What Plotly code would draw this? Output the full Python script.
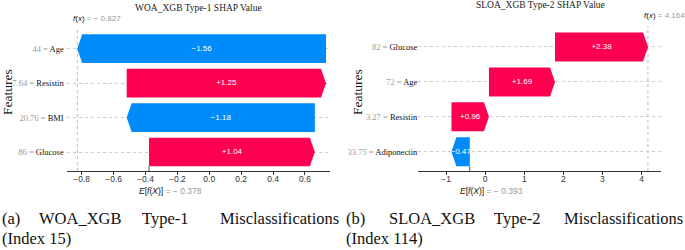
import plotly.graph_objects as go

# ---------------- data ----------------
# panel (a): rows listed bottom -> top
a_features = ["Glucose", "BMI", "Resistin", "Age"]
a_values = ["86", "20.76", "7.64", "44"]
a_shap = [1.04, -1.18, 1.25, -1.56]
a_base = -0.378
a_fx = -0.827
a_ticks = [-0.8, -0.6, -0.4, -0.2, 0.0, 0.2, 0.4, 0.6]
a_title = "WOA_XGB Type-1 SHAP Value"

# panel (b): rows listed bottom -> top
b_features = ["Adiponectin", "Resistin", "Age", "Glucose"]
b_values = ["33.75", "3.27", "72", "82"]
b_shap = [-0.47, 0.96, 1.69, 2.38]
b_base = -0.393
b_fx = 4.164
b_ticks = [-1, 0, 1, 2, 3, 4]
b_title = "SLOA_XGB Type-2 SHAP Value"

cap_line1 = ["(a)", "WOA_XGB", "Type-1", "Misclassifications",
             "(b)", "SLOA_XGB", "Type-2", "Misclassifications"]
cap_line2 = ["(Index 15)", "(Index 114)"]

# ---------------- styling ----------------
W, H = 685, 250
RED = "#FF0051"
BLUE = "#008BFB"
SERIF = "Liberation Serif, serif"
SANS = "Liberation Sans, Arial, sans-serif"
CAPFONT = "Liberation Serif, serif"


def px(x):
    return x / W


def py(y):
    return 1 - y / H


a_dom = [66.7, 330.0]
a_rng = [-0.894, 0.757]
b_dom = [418.3, 660.7]
b_rng = [-1.71, 4.49]
yr = [-0.55, 3.6]
a_ydom = [py(171), py(28)]
b_ydom = [py(171), py(26)]
BAR_H = 0.83
HEAD_PX = 5.0

fig = go.Figure()


def add_panel(features, values, shap, base, fx, xa, ya, dom, rng):
    ppu = (dom[1] - dom[0]) / (rng[1] - rng[0])
    head = HEAD_PX / ppu
    start = base
    tx, ty, tt = [], [], []
    for i, v in enumerate(shap):
        end = start + v
        d = 1 if v > 0 else -1
        hl = min(head, abs(v))
        be = end - d * hl
        y = i
        h = BAR_H / 2
        xs = [start, be, end, be, start, start]
        ys = [y - h, y - h, y, y + h, y + h, y - h]
        fig.add_trace(go.Scatter(
            x=xs, y=ys, mode="lines", fill="toself",
            fillcolor=RED if v > 0 else BLUE,
            line=dict(width=0, color=RED if v > 0 else BLUE),
            hoverinfo="skip", showlegend=False, xaxis=xa, yaxis=ya))
        tx.append(start + v / 2)
        ty.append(y)
        tt.append(("+" if v > 0 else "\u2212") + f"{abs(v):.2f}")
        start = end
    fig.add_trace(go.Scatter(
        x=tx, y=ty, mode="text", text=tt,
        textfont=dict(family=SANS, size=8, color="white"),
        hoverinfo="skip", showlegend=False, xaxis=xa, yaxis=ya))


add_panel(a_features, a_values, a_shap, a_base, a_fx, "x", "y", a_dom, a_rng)
add_panel(b_features, b_values, b_shap, b_base, b_fx, "x2", "y2", b_dom, b_rng)


def ticktext(features, values):
    return [f"<span style='color:#9a9a9a'>{v} = </span>{f}" for f, v in zip(features, values)]


xcommon = dict(showline=True, linecolor="#333333", linewidth=1.3, ticks="outside",
               ticklen=3, tickwidth=1, tickcolor="#333333", showgrid=False, zeroline=False,
               ticklabelstandoff=-3,
               tickfont=dict(family=SANS, size=8.5, color="#333333"), fixedrange=True)
ycommon = dict(range=yr, tickvals=[0, 1, 2, 3], showgrid=True, griddash="dot",
               gridcolor="#cccccc", gridwidth=1, showline=False, zeroline=False,
               ticks="", tickfont=dict(family=SERIF, size=8.5, color="#111111"),
               fixedrange=True)

fig.update_layout(
    width=W, height=H, margin=dict(l=0, r=0, t=0, b=0),
    paper_bgcolor="white", plot_bgcolor="white",
    xaxis=dict(domain=[px(a_dom[0]), px(a_dom[1])], range=a_rng, tickvals=a_ticks,
               tickformat=".1f", anchor="y", **xcommon),
    yaxis=dict(domain=a_ydom, ticktext=ticktext(a_features, a_values), anchor="x",
               ticklabelstandoff=2, **ycommon),
    xaxis2=dict(domain=[px(b_dom[0]), px(b_dom[1])], range=b_rng, tickvals=b_ticks,
                tickformat="d", anchor="y2", **xcommon),
    yaxis2=dict(domain=b_ydom, ticktext=ticktext(b_features, b_values), anchor="x2", **ycommon),
)

shapes = []
# f(x) lines
for fx, xr, yd in [(a_fx, "x", "y domain"), (b_fx, "x2", "y2 domain")]:
    shapes.append(dict(type="line", xref=xr, yref=yd, x0=fx, x1=fx, y0=0, y1=1,
                       line=dict(color="#bbbbbb", width=1, dash="dot"), layer="below"))
# base value lines
for base, xr, yr_ in [(a_base, "x", "y"), (b_base, "x2", "y2")]:
    shapes.append(dict(type="line", xref=xr, yref=yr_, x0=base, x1=base, y0=yr[0], y1=-BAR_H / 2,
                       line=dict(color="#555555", width=1), layer="below"))
fig.update_layout(shapes=shapes)

ann = []


def A(**kw):
    d = dict(showarrow=False, xanchor="center", yanchor="middle")
    d.update(kw)
    ann.append(d)


# titles
A(text=a_title, x=px(198), y=py(8), xref="paper", yref="paper",
  font=dict(family=SERIF, size=9.5, color="#222222"))
A(text=b_title, x=px(540), y=py(5), xref="paper", yref="paper",
  font=dict(family=SERIF, size=9.5, color="#222222"))
# Features y titles
for xx in [7, 357]:
    A(text="Features", x=px(xx), y=py(92), xref="paper", yref="paper", textangle=-90,
      font=dict(family=SERIF, size=13.5, color="#111111"))


def fmt(v):
    return ("\u2212 " if v < 0 else "") + f"{abs(v):.3f}"


# f(x) labels: "f(x)" centred on the line, value following
for fx, xr, yy in [(a_fx, "x", 19), (b_fx, "x2", 15)]:
    A(text="<i>f</i>(<i>x</i>) <span style='color:#9a9a9a'>= " + fmt(fx) + "</span>",
      x=fx, y=py(yy), xref=xr, yref="paper", xanchor="left", xshift=-6,
      font=dict(family=SANS, size=8, color="#111111"))
# E[f(X)] labels
for base, xr in [(a_base, "x"), (b_base, "x2")]:
    A(text="<i>E</i>[<i>f</i>(<i>X</i>)] <span style='color:#9a9a9a'>= " + fmt(base) + "</span>",
      x=base, y=py(191), xref=xr, yref="paper", xanchor="left", xshift=-12,
      font=dict(family=SANS, size=8.5, color="#111111"))

# captions (justified by word placement)
CF = dict(family=CAPFONT, size=16.5, color="#111111")
cap1_pos = [(0, "left"), (80.5, "center"), (165, "center"), (341, "right"),
            (344, "left"), (432.5, "center"), (517, "center"), (685, "right")]
for w, (xx, anc) in zip(cap_line1, cap1_pos):
    A(text=w, x=px(xx), y=py(218), xref="paper", yref="paper", xanchor=anc, font=CF)
for w, xl in zip(cap_line2, [0, 344]):
    A(text=w, x=px(xl), y=py(238), xref="paper", yref="paper", xanchor="left", font=CF)

fig.update_layout(annotations=ann)
fig.write_html("out.html", config={"displayModeBar": False},
               post_script="document.body.style.margin='0';")
